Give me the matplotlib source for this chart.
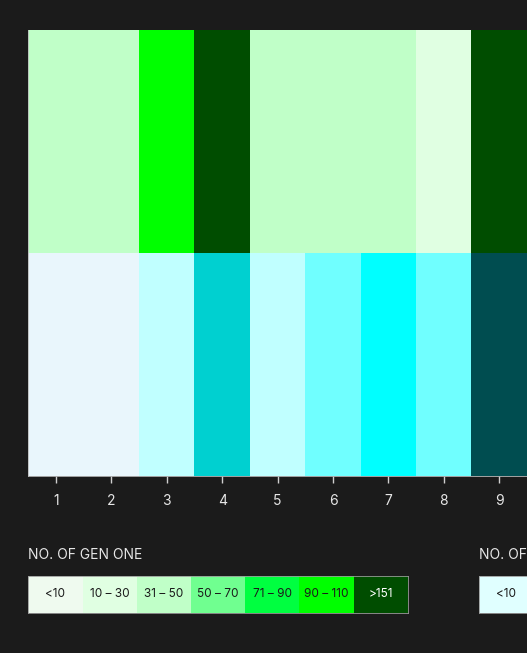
import numpy as np
import matplotlib
matplotlib.use("Agg")
import matplotlib.pyplot as plt
from matplotlib.colors import ListedColormap, BoundaryNorm

plt.rcParams["font.family"] = ["Inter", "DejaVu Sans"]

# data
columns = [1, 2, 3, 4, 5, 6, 7, 8, 9]
gen_one = [40, 40, 100, 160, 40, 40, 40, 20, 160]
gen_two = [np.nan, np.nan, 20, 80, 20, 40, 60, 40, 160]  # nan = no data

bin_labels = ["<10", "10 – 30", "31 – 50", "50 – 70", "71 – 90", "90 – 110", ">151"]
bin_edges = [0, 10, 31, 51, 71, 91, 151, 1000]
green_colors = ["#effaef", "#e0ffe2", "#c0ffc8", "#70ff90", "#00ff40", "#00ff00", "#004d00"]
cyan_colors = ["#e0ffff", "#c0ffff", "#70ffff", "#00ffff", "#00d0d0", "#00a0a0", "#004d50"]
no_data_color = "#e9f6fc"

bg = "#1b1b1b"
W, H = 527, 653

fig = plt.figure(figsize=(W / 100, H / 100), dpi=100, facecolor=bg)


def px(x0, y0, x1, y1):
    return [x0 / W, 1 - y1 / H, (x1 - x0) / W, (y1 - y0) / H]


norm = BoundaryNorm(bin_edges, len(bin_labels))
green_cmap = ListedColormap(green_colors)
cyan_cmap = ListedColormap(cyan_colors)
cyan_cmap.set_bad(no_data_color)

ax = fig.add_axes(px(28.3, 30, 28.3 + 55.4 * 9, 476))
ax.set_facecolor(bg)
x_edges = np.arange(len(columns) + 1) + 0.5
ax.pcolormesh(x_edges, [0, 1], np.array([gen_one]), cmap=green_cmap, norm=norm)
ax.pcolormesh(x_edges, [1, 2], np.ma.masked_invalid([gen_two]), cmap=cyan_cmap, norm=norm)
ax.set_xlim(0.5, len(columns) + 0.5)
ax.set_ylim(2, 0)
ax.set_xticks(columns)
ax.set_xticklabels([str(c) for c in columns])
ax.set_yticks([])
ax.tick_params(axis="x", length=5, width=1, color="#d0d0d0", pad=8,
               labelsize=10, labelcolor="#e6e6e6")
for side in ["top", "right"]:
    ax.spines[side].set_visible(False)
for side in ["left", "bottom"]:
    ax.spines[side].set_color("#bbbbbb")
    ax.spines[side].set_linewidth(0.6)

box_w = 54.2


def legend_strip(x0, title, colors):
    fig.text(x0 / W, 1 - 555 / H, title, color="#e6e6e6", fontsize=10,
             ha="left", va="center")
    lax = fig.add_axes(px(x0, 575.5, x0 + box_w * len(colors), 613))
    lax.bar(range(len(colors)), [1] * len(colors), width=1, color=colors)
    for i, lab in enumerate(bin_labels):
        # only label the boxes that fall inside the picture
        if x0 + box_w * (i + 1) > W + 10:
            continue
        tc = "white" if i == len(colors) - 1 else "#1b1b1b"
        lax.text(i, 0.5, lab, ha="center", va="center", fontsize=8.5, color=tc)
    lax.set_xlim(-0.5, len(colors) - 0.5)
    lax.set_ylim(0, 1)
    lax.set_xticks([])
    lax.set_yticks([])
    for s in lax.spines.values():
        s.set_color("#9a9a9a")
        s.set_linewidth(0.6)


legend_strip(28.3, "NO. OF GEN ONE", green_colors)
legend_strip(479, "NO. OF GEN TWO", cyan_colors)

fig.savefig("out.png", dpi=100, facecolor=bg)
